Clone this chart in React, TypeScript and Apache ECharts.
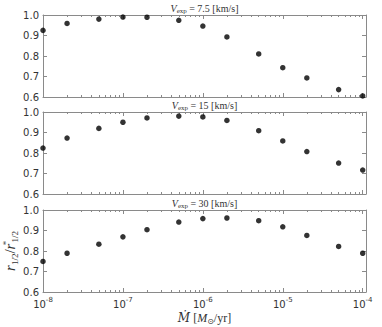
import React, { useEffect, useRef } from "react";
import * as echarts from "echarts";

const massLoss = [1e-8, 2e-8, 5e-8, 1e-7, 2e-7, 5e-7, 1e-6, 2e-6, 5e-6, 1e-5, 2e-5, 5e-5, 1e-4];
const ratioV75 = [0.925, 0.959, 0.98, 0.99, 0.989, 0.974, 0.946, 0.893, 0.81, 0.743, 0.693, 0.636, 0.605];
const ratioV15 = [0.824, 0.873, 0.92, 0.95, 0.971, 0.98, 0.976, 0.959, 0.909, 0.859, 0.807, 0.751, 0.717];
const ratioV30 = [0.749, 0.789, 0.833, 0.869, 0.904, 0.941, 0.958, 0.961, 0.948, 0.918, 0.876, 0.822, 0.789];
const panelVelocities = ["7.5", "15", "30"];
const majorXTicks = [1e-8, 1e-7, 1e-6, 1e-5, 1e-4];
const minorXTicks: number[] = [];
for (let e = -8; e < -4; e++) {
  for (let k = 2; k <= 9; k++) minorXTicks.push(Number((k * Math.pow(10, e)).toPrecision(3)));
}
const yTicks = [0.6, 0.7, 0.8, 0.9, 1.0];

const LEFT = 43;
const RIGHT = 366;
const TOPS = [15, 112, 210];
const HEIGHT = 82;
const FRAME = "#8a8a8a";
const TEXT = "#333";
const SERIF = "'Liberation Serif', 'DejaVu Serif', serif";
const SANS = "'DejaVu Sans', sans-serif";

export default function App() {
  const ref = useRef<HTMLDivElement>(null);
  useEffect(() => {
    document.body.style.margin = "0";
    const chart = echarts.init(ref.current!, null, { renderer: "svg" });
    const seriesData = [ratioV75, ratioV15, ratioV30];
    const grids: any[] = [];
    const xAxes: any[] = [];
    const yAxes: any[] = [];
    const series: any[] = [];
    const graphics: any[] = [];
    const expTo = (v: number) => Math.round(Math.log10(v));
    TOPS.forEach((top, i) => {
      grids.push({ left: LEFT, top, width: RIGHT - LEFT, height: HEIGHT, containLabel: false });
      const base = {
        type: "log",
        logBase: 10,
        gridIndex: i,
        min: 1e-8,
        max: 1.1e-4,
        splitLine: { show: false },
        minorTick: { show: false },
      };
      ["bottom", "top"].forEach((pos) => {
        xAxes.push({
          ...base,
          position: pos,
          axisLine: { show: true, onZero: false, lineStyle: { color: FRAME, width: 1 } },
          axisTick: {
            show: true,
            inside: true,
            length: 4,
            customValues: majorXTicks,
            lineStyle: { color: FRAME },
          },
          axisLabel: {
            show: pos === "bottom" && i === 2,
            customValues: majorXTicks,
            margin: 4,
            color: TEXT,
            formatter: (v: number) => `{b|10}{s|${expTo(v)}}`,
            rich: {
              b: { fontSize: 10, fontFamily: SANS, color: TEXT, lineHeight: 13, verticalAlign: "bottom" },
              s: { fontSize: 7, fontFamily: SANS, color: TEXT, lineHeight: 7, verticalAlign: "top" },
            },
          },
        });
        xAxes.push({
          ...base,
          position: pos,
          axisLine: { show: false },
          axisTick: {
            show: true,
            inside: true,
            length: 2,
            customValues: minorXTicks,
            lineStyle: { color: FRAME },
          },
          axisLabel: { show: false },
        });
      });
      ["left", "right"].forEach((pos) => {
        yAxes.push({
          type: "value",
          gridIndex: i,
          position: pos,
          min: 0.6,
          max: 1.0,
          interval: 0.1,
          splitLine: { show: false },
          axisLine: { show: true, onZero: false, lineStyle: { color: FRAME, width: 1 } },
          axisTick: { show: true, inside: true, length: 4, lineStyle: { color: FRAME } },
          axisLabel: {
            show: pos === "left",
            customValues: yTicks,
            formatter: (v: number) => v.toFixed(1),
            fontSize: 10,
            fontFamily: SANS,
            color: TEXT,
            margin: 4,
          },
        });
      });
      series.push({
        type: "scatter",
        xAxisIndex: i * 4,
        yAxisIndex: i * 2,
        symbol: "circle",
        symbolSize: 5.5,
        clip: true,
        itemStyle: { color: "#000" },
        data: massLoss.map((m, k) => [m, seriesData[i][k]]),
      });
      graphics.push({
        type: "text",
        x: (LEFT + RIGHT) / 2,
        y: top - 7,
        style: {
          text: `{v|V}{sub|exp}{n| = ${panelVelocities[i]} [km/s]}`,
          align: "center",
          verticalAlign: "middle",
          rich: {
            v: { fontSize: 10, fontStyle: "italic", fontFamily: SERIF, fill: TEXT, lineHeight: 12, verticalAlign: "middle" },
            sub: { fontSize: 7, fontFamily: SERIF, fill: TEXT, lineHeight: 6, verticalAlign: "bottom" },
            n: { fontSize: 10, fontFamily: SERIF, fill: TEXT, lineHeight: 12, verticalAlign: "middle" },
          },
        },
      });
    });
    graphics.push({
      type: "text",
      x: (LEFT + RIGHT) / 2,
      y: 318,
      style: {
        text: "{d|Ṁ}{n| [}{i|M}{sub|⊙}{n|/yr]}",
        align: "center",
        verticalAlign: "middle",
        rich: {
          d: { fontSize: 12, fontStyle: "italic", fontFamily: "'DejaVu Serif', serif", fill: TEXT, lineHeight: 14, verticalAlign: "middle" },
          i: { fontSize: 12, fontStyle: "italic", fontFamily: SERIF, fill: TEXT, lineHeight: 14, verticalAlign: "middle" },
          sub: { fontSize: 8, fontFamily: "'DejaVu Sans', serif", fill: TEXT, lineHeight: 7, verticalAlign: "bottom" },
          n: { fontSize: 12, fontFamily: SERIF, fill: TEXT, lineHeight: 14, verticalAlign: "middle" },
        },
      },
    });
    graphics.push({
      type: "text",
      x: 10,
      y: TOPS[2] + HEIGHT / 2,
      rotation: Math.PI / 2,
      style: {
        text: "{i|r}{sub|1/2}{n|/}{i|r}{sup|*}{sub2|1/2}",
        align: "center",
        verticalAlign: "middle",
        rich: {
          i: { fontSize: 15, fontStyle: "italic", fontFamily: SERIF, fill: TEXT, lineHeight: 18, verticalAlign: "middle" },
          n: { fontSize: 15, fontFamily: SERIF, fill: TEXT, lineHeight: 18, verticalAlign: "middle" },
          sub: { fontSize: 9, fontFamily: SERIF, fill: TEXT, lineHeight: 8, verticalAlign: "bottom" },
          sup: { fontSize: 9, fontFamily: SERIF, fill: TEXT, lineHeight: 8, verticalAlign: "top", width: 1 },
          sub2: { fontSize: 9, fontFamily: SERIF, fill: TEXT, lineHeight: 8, verticalAlign: "bottom" },
        },
      },
    });
    chart.setOption({
      animation: false,
      backgroundColor: "#fff",
      grid: grids,
      xAxis: xAxes,
      yAxis: yAxes,
      series,
      graphic: graphics,
    });
    return () => chart.dispose();
  }, []);
  return <div ref={ref} style={{ width: 382, height: 327 }} />;
}
